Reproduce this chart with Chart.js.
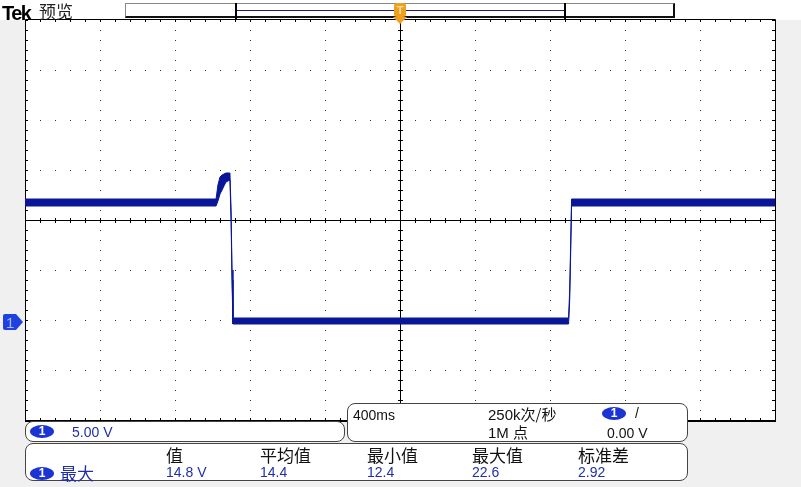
<!DOCTYPE html>
<html>
<head>
<meta charset="utf-8">
<script src="https://cdn.jsdelivr.net/npm/chart.js@4/dist/chart.umd.min.js"></script>
<style>
  body { margin: 0; background: #f0f0f0; width: 801px; height: 487px; overflow: hidden; position: relative; font-family: "Liberation Sans", Arial, sans-serif; }
  #c { position: absolute; left: 0; top: 0; }
  .t { position: absolute; white-space: nowrap; line-height: 1; }
  .cjk { font-family: "Noto Sans CJK SC", sans-serif; }
  .blue { color: #1f2fa8; }
  .box { position: absolute; border: 1px solid #444; border-radius: 8px; background: #fff; box-sizing: border-box; }
  .oval { position: absolute; background: #1b34d4; color: #fff; border-radius: 50%; font: bold 12px "Liberation Sans", sans-serif; text-align: center; line-height: 13px; }
</style>
</head>
<body>
<div style="position:absolute;left:0;top:0;width:801px;height:20px;background:#fff"></div>
<canvas id="c" width="801" height="487"></canvas>

<div class="t" style="left:2px;top:2px;font:bold 20px 'Liberation Sans',sans-serif;letter-spacing:-1.5px;color:#000">Tek</div>
<div class="t cjk" style="left:39px;top:2px;font-size:17px;color:#222">预览</div>

<!-- record view bar -->
<div style="position:absolute;left:125px;top:3px;width:550px;height:15px;background:#fff;border-top:1px solid #888;border-left:1px solid #888;border-right:2px solid #111;border-bottom:2px solid #111;box-sizing:border-box"></div>
<div style="position:absolute;left:235px;top:3px;width:2px;height:16px;background:#000"></div>
<div style="position:absolute;left:564px;top:3px;width:2px;height:16px;background:#000"></div>
<div style="position:absolute;left:237px;top:10px;width:327px;height:1px;background:#1a1a80"></div>
<div style="position:absolute;left:394px;top:3px;width:12px;height:14px;background:#f0a020;border-radius:3px;color:#ffe2a0;font:bold 11px 'Liberation Sans';text-align:center;line-height:14px">T</div>
<div style="position:absolute;left:393px;top:17px;width:0;height:0;border-left:7px solid transparent;border-right:7px solid transparent;border-top:7px solid #f0a020"></div>

<!-- ground marker -->
<div style="position:absolute;left:3px;top:314px;width:13px;height:16px;background:#2040e0;border-radius:2px 0 0 2px"></div>
<div style="position:absolute;left:16px;top:314px;width:0;height:0;border-top:8px solid transparent;border-bottom:8px solid transparent;border-left:7px solid #2040e0"></div>
<div class="t" style="left:6px;top:315px;font-size:15px;color:#a8b8ff">1</div>

<!-- channel box -->
<div class="box" style="left:25px;top:421px;width:320px;height:21px"></div>
<div class="oval" style="left:30px;top:425px;width:24px;height:13px">1</div>
<div class="t blue" style="left:72px;top:425px;font-size:14px">5.00 V</div>

<!-- timebase box -->
<div class="box" style="left:347px;top:403px;width:341px;height:39px"></div>
<div class="t" style="left:353px;top:408px;font-size:14px;color:#111">400ms</div>
<div class="t" style="left:488px;top:406px;font-size:15px;color:#111">250k<span class="cjk">次/秒</span></div>
<div class="t" style="left:488px;top:424px;font-size:15px;color:#111">1M <span class="cjk">点</span></div>
<div class="oval" style="left:602px;top:407px;width:24px;height:13px">1</div>
<div class="t" style="left:635px;top:406px;font-size:14px;color:#111">/</div>
<div class="t" style="left:607px;top:426px;font-size:14px;color:#111">0.00 V</div>

<!-- measurement box -->
<div class="box" style="left:25px;top:443px;width:663px;height:38px"></div>
<div id="meas"></div>

<script>
// trace envelope, time in ms (400 ms/div), volts (5 V/div)
var timeMs = [-2000, -981, -971, -960, -949, -939, -928, -907, -901, -896, -891, 899, 905, 910, 915, 2000];
var upperV = [12.1, 12.1, 13.5, 14.3, 14.5, 14.6, 14.7, 14.7, 11.0, 5.0, 0.2, 0.2, 3.0, 7.5, 12.1, 12.1];
var lowerV = [11.4, 11.4, 11.9, 12.6, 13.0, 13.4, 13.8, 14.0, 10.0, 4.0, -0.4, -0.4, 2.0, 6.5, 11.4, 11.4];

var measHeaders = ['值', '平均值', '最小值', '最大值', '标准差'];
var measValues = ['14.8 V', '14.4', '12.4', '22.6', '2.92'];
var measX = [166, 260, 367, 472, 578];

var meas = document.getElementById('meas');
var html = '<div class="oval" style="left:30px;top:467px;width:24px;height:13px">1</div>' +
  '<div class="t cjk blue" style="left:60px;top:464px;font-size:17px">最大</div>';
for (var i = 0; i < measHeaders.length; i++) {
  html += '<div class="t cjk" style="left:' + measX[i] + 'px;top:446px;font-size:17px;color:#111">' + measHeaders[i] + '</div>';
  html += '<div class="t blue" style="left:' + measX[i] + 'px;top:465px;font-size:14px">' + measValues[i] + '</div>';
}
meas.innerHTML = html;

function pts(vals) {
  var out = [];
  for (var i = 0; i < timeMs.length; i++) out.push({x: timeMs[i], y: vals[i]});
  return out;
}

var graticule = {
  id: 'graticule',
  beforeDraw: function(chart) {
    var a = chart.chartArea, ctx = chart.ctx;
    ctx.save();
    ctx.fillStyle = '#fff';
    ctx.fillRect(a.left, a.top, a.right - a.left, a.bottom - a.top);
    ctx.restore();
  },
  beforeDatasetsDraw: function(chart) {
    var a = chart.chartArea, ctx = chart.ctx;
    var cx = Math.round(chart.scales.x.getPixelForValue(0)) + 0.5;
    var cy = Math.round(chart.scales.y.getPixelForValue(10)) + 0.5;
    ctx.save();
    ctx.strokeStyle = '#000';
    ctx.lineWidth = 1;
    ctx.beginPath();
    ctx.moveTo(a.left, cy); ctx.lineTo(a.right, cy);
    ctx.moveTo(cx, a.top); ctx.lineTo(cx, a.bottom);
    var x, y;
    for (x = a.left; x <= a.right; x += 15) {
      ctx.moveTo(x + 0.5, cy - 2.5); ctx.lineTo(x + 0.5, cy + 2.5);
      ctx.moveTo(x + 0.5, a.top); ctx.lineTo(x + 0.5, a.top + 2);
      ctx.moveTo(x + 0.5, a.bottom - 2); ctx.lineTo(x + 0.5, a.bottom);
    }
    for (y = a.top; y <= a.bottom; y += 10) {
      ctx.moveTo(cx - 2.5, y + 0.5); ctx.lineTo(cx + 2.5, y + 0.5);
      ctx.moveTo(a.left, y + 0.5); ctx.lineTo(a.left + 3, y + 0.5);
      ctx.moveTo(a.right - 3, y + 0.5); ctx.lineTo(a.right, y + 0.5);
    }
    ctx.stroke();
    // frame
    ctx.beginPath();
    ctx.moveTo(a.left + 0.5, a.top - 0.5); ctx.lineTo(a.right + 0.5, a.top - 0.5);
    ctx.moveTo(a.left + 0.5, a.top - 0.5); ctx.lineTo(a.left + 0.5, a.bottom + 1);
    ctx.moveTo(a.right + 0.5, a.top - 0.5); ctx.lineTo(a.right + 0.5, a.bottom + 1);
    ctx.stroke();
    ctx.lineWidth = 2;
    ctx.beginPath();
    ctx.moveTo(a.left, a.bottom + 1); ctx.lineTo(a.right + 1, a.bottom + 1);
    ctx.stroke();
    ctx.restore();
  }
};

var ctx = document.getElementById('c');
var chart = new Chart(ctx, {
  type: 'line',
  data: {
    datasets: [
      { data: pts(upperV), borderColor: '#0a1698', backgroundColor: '#0a1698', borderWidth: 1, fill: '+1' },
      { data: pts(lowerV), borderColor: '#0a1698', backgroundColor: '#0a1698', borderWidth: 1, fill: false }
    ]
  },
  options: {
    responsive: false,
    animation: false,
    devicePixelRatio: 1,
    layout: { padding: { left: 25, top: 20, right: 26, bottom: 67 } },
    elements: { point: { radius: 0 }, line: { tension: 0 } },
    plugins: { legend: { display: false }, tooltip: { enabled: false } },
    scales: {
      x: {
        type: 'linear', min: -2000, max: 2000,
        ticks: { stepSize: 400, display: false },
        grid: { color: '#333', lineWidth: 1, drawTicks: false },
        border: { display: false, dash: [1, 9] }
      },
      y: {
        min: -10, max: 30,
        ticks: { stepSize: 5, display: false },
        grid: { color: '#333', lineWidth: 1, drawTicks: false },
        border: { display: false, dash: [1, 14] }
      }
    }
  },
  plugins: [graticule]
});
</script>
</body>
</html>
